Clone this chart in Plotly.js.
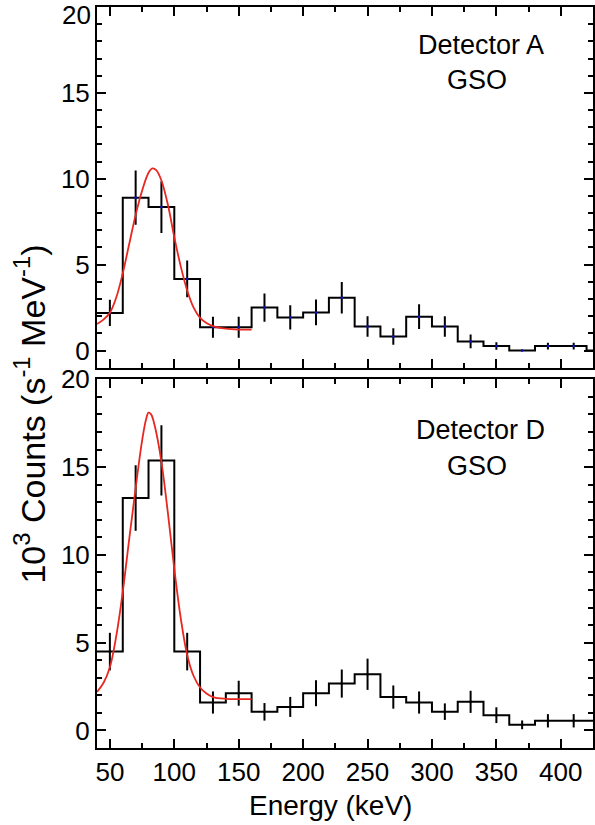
<!DOCTYPE html>
<html>
<head>
<meta charset="utf-8">
<script src="https://cdn.plot.ly/plotly-3.0.1.min.js"></script>
<style>html,body{margin:0;padding:0;background:#fff;}#chart{width:595px;height:825px;}</style>
</head>
<body>
<div id="chart"></div>
<script>
// Bin centres (keV)
const energy = [50,70,90,110,130,150,170,190,210,230,250,270,290,310,330,350,370,390,410,430];

// Detector A (GSO), 10^3 counts s^-1 MeV^-1
const countsA = [2.19,8.90,8.35,4.17,1.35,1.35,2.50,1.93,2.22,3.07,1.40,0.82,1.97,1.40,0.53,0.26,0.00,0.26,0.26,0.00];
const errA    = [0.76,1.58,1.50,1.07,0.61,0.61,0.82,0.71,0.75,0.92,0.60,0.48,0.72,0.60,0.40,0.22,0.04,0.20,0.20,0.00];

// Detector D (GSO)
const countsD = [4.49,13.24,15.38,4.49,1.59,2.12,1.06,1.34,2.12,2.67,3.20,1.90,1.59,1.07,1.63,0.87,0.32,0.55,0.55,0.55];
const errD    = [1.07,1.87,2.00,1.07,0.63,0.71,0.50,0.57,0.74,0.80,0.89,0.66,0.63,0.47,0.63,0.45,0.25,0.38,0.38,0.00];

// Fitted line profiles
const fitEnergyA = [40,45,50,55,60,65,70,75,80,83,86,90,95,100,105,110,115,120,125,130,140,150,160];
const fitA       = [1.55,1.8,2.2,3.1,4.5,6.2,7.9,9.3,10.35,10.6,10.5,9.9,8.5,6.6,4.9,3.5,2.5,1.9,1.6,1.42,1.27,1.22,1.22];
const fitEnergyD = [40,45,50,55,60,65,70,75,78,80,82,85,90,95,100,105,110,115,120,125,130,140,150,160];
const fitD       = [2.2,2.7,3.6,5.4,7.9,10.9,13.8,16.5,17.7,18.1,18.0,17.3,15.3,12.4,9.2,6.4,4.3,3.1,2.45,2.1,1.9,1.8,1.78,1.78];

const yTickVals = [0,5,10,15,20];
const yTickText = ['0','5','10','15','20'];
const yTickTextTop = ['0','5','10','15',''];   // top "20" is drawn as a label below the frame corner
const xTickVals = [50,100,150,200,250,300,350,400];

function stepTrace(centers, vals, xa, ya) {
  const w = centers[1] - centers[0];
  const xs = [centers[0] - w/2].concat(centers.map(c => c + w/2));
  const ys = vals.concat([vals[vals.length-1]]);
  return {x: xs, y: ys, xaxis: xa, yaxis: ya, mode: 'lines', type: 'scatter',
          line: {shape: 'hv', color: '#000', width: 2}, hoverinfo: 'skip', showlegend: false};
}
function errTrace(centers, vals, errs, xa, ya, dotColor) {
  return {x: centers, y: vals, xaxis: xa, yaxis: ya, mode: 'markers', type: 'scatter',
          marker: {size: 2.5, color: dotColor}, showlegend: false,
          error_y: {type: 'data', array: errs, visible: true, color: '#000', thickness: 2, width: 0}};
}
function fitTrace(xs, ys, xa, ya) {
  return {x: xs, y: ys, xaxis: xa, yaxis: ya, mode: 'lines', type: 'scatter',
          line: {shape: 'spline', color: 'rgb(232,40,32)', width: 1.8}, showlegend: false};
}

const data = [
  stepTrace(energy, countsA, 'x2', 'y2'),
  errTrace(energy, countsA, errA, 'x2', 'y2', '#1010d0'),
  fitTrace(fitEnergyA, fitA, 'x2', 'y2'),
  stepTrace(energy, countsD, 'x', 'y'),
  errTrace(energy, countsD, errD, 'x', 'y', '#000'),
  fitTrace(fitEnergyD, fitD, 'x', 'y')
];

const font = 'Liberation Sans, Arial, Helvetica, sans-serif';
function xAxis(extra) {
  return Object.assign({
    range: [40, 425], tickvals: xTickVals, ticks: 'inside', ticklen: 9, tickwidth: 2, tickcolor: '#000',
    minor: {dtick: 25, tick0: 0, ticks: 'inside', ticklen: 5, tickwidth: 2, tickcolor: '#000'},
    showline: true, linecolor: '#000', linewidth: 2, mirror: 'allticks', showgrid: false, zeroline: false,
    tickfont: {family: font, size: 26, color: '#000'}, ticklabeloverflow: 'allow'
  }, extra);
}
function yAxis(extra) {
  return Object.assign({
    range: [-1, 20], tickvals: yTickVals, ticktext: yTickText, ticks: 'inside', ticklen: 9, tickwidth: 2, tickcolor: '#000',
    minor: {dtick: 1, tick0: 0, ticks: 'inside', ticklen: 5, tickwidth: 2, tickcolor: '#000'},
    showline: true, linecolor: '#000', linewidth: 2, mirror: 'allticks', showgrid: false, zeroline: false,
    tickfont: {family: font, size: 26, color: '#000'}, ticklabelstandoff: 0, ticklabeloverflow: 'allow'
  }, extra);
}

const layout = {
  width: 595, height: 825,
  margin: {l: 97, r: 2, t: 7, b: 77},
  paper_bgcolor: '#fff', plot_bgcolor: '#fff',
  showlegend: false,
  xaxis: xAxis({anchor: 'y', ticklabelstandoff: 0}),
  xaxis2: xAxis({anchor: 'y2', matches: 'x', showticklabels: false}),
  yaxis: yAxis({domain: [0, 0.4976], anchor: 'x'}),
  yaxis2: yAxis({domain: [0.5132, 1], anchor: 'x2', ticktext: yTickTextTop}),
  annotations: [
    {text: yTickText[4], xref: 'paper', yref: 'paper', x: -0.008, y: 0.989, showarrow: false,
     font: {family: font, size: 26, color: '#000'}, xanchor: 'right', yanchor: 'middle'},
    {text: 'Detector A', xref: 'paper', yref: 'paper', x: 0.774, y: 0.949, showarrow: false,
     font: {family: font, size: 27, color: '#000'}, xanchor: 'center', yanchor: 'middle'},
    {text: 'GSO', xref: 'paper', yref: 'paper', x: 0.766, y: 0.901, showarrow: false,
     font: {family: font, size: 27, color: '#000'}, xanchor: 'center', yanchor: 'middle'},
    {text: 'Detector D', xref: 'paper', yref: 'paper', x: 0.774, y: 0.429, showarrow: false,
     font: {family: font, size: 27, color: '#000'}, xanchor: 'center', yanchor: 'middle'},
    {text: 'GSO', xref: 'paper', yref: 'paper', x: 0.766, y: 0.381, showarrow: false,
     font: {family: font, size: 27, color: '#000'}, xanchor: 'center', yanchor: 'middle'},
    {text: 'Energy (keV)', xref: 'paper', yref: 'paper', x: 0.47, y: -0.078, showarrow: false,
     font: {family: font, size: 28, color: '#000'}, xanchor: 'center', yanchor: 'middle'},
    {text: '10<sup>3</sup> Counts (s<sup>-1</sup> MeV<sup>-1</sup>)', xref: 'paper', yref: 'paper',
     x: -0.135, y: 0.45, showarrow: false, textangle: -90,
     font: {family: font, size: 34, color: '#000'}, xanchor: 'center', yanchor: 'middle'}
  ]
};

Plotly.newPlot('chart', data, layout, {staticPlot: true, displayModeBar: false});
</script>
</body>
</html>
